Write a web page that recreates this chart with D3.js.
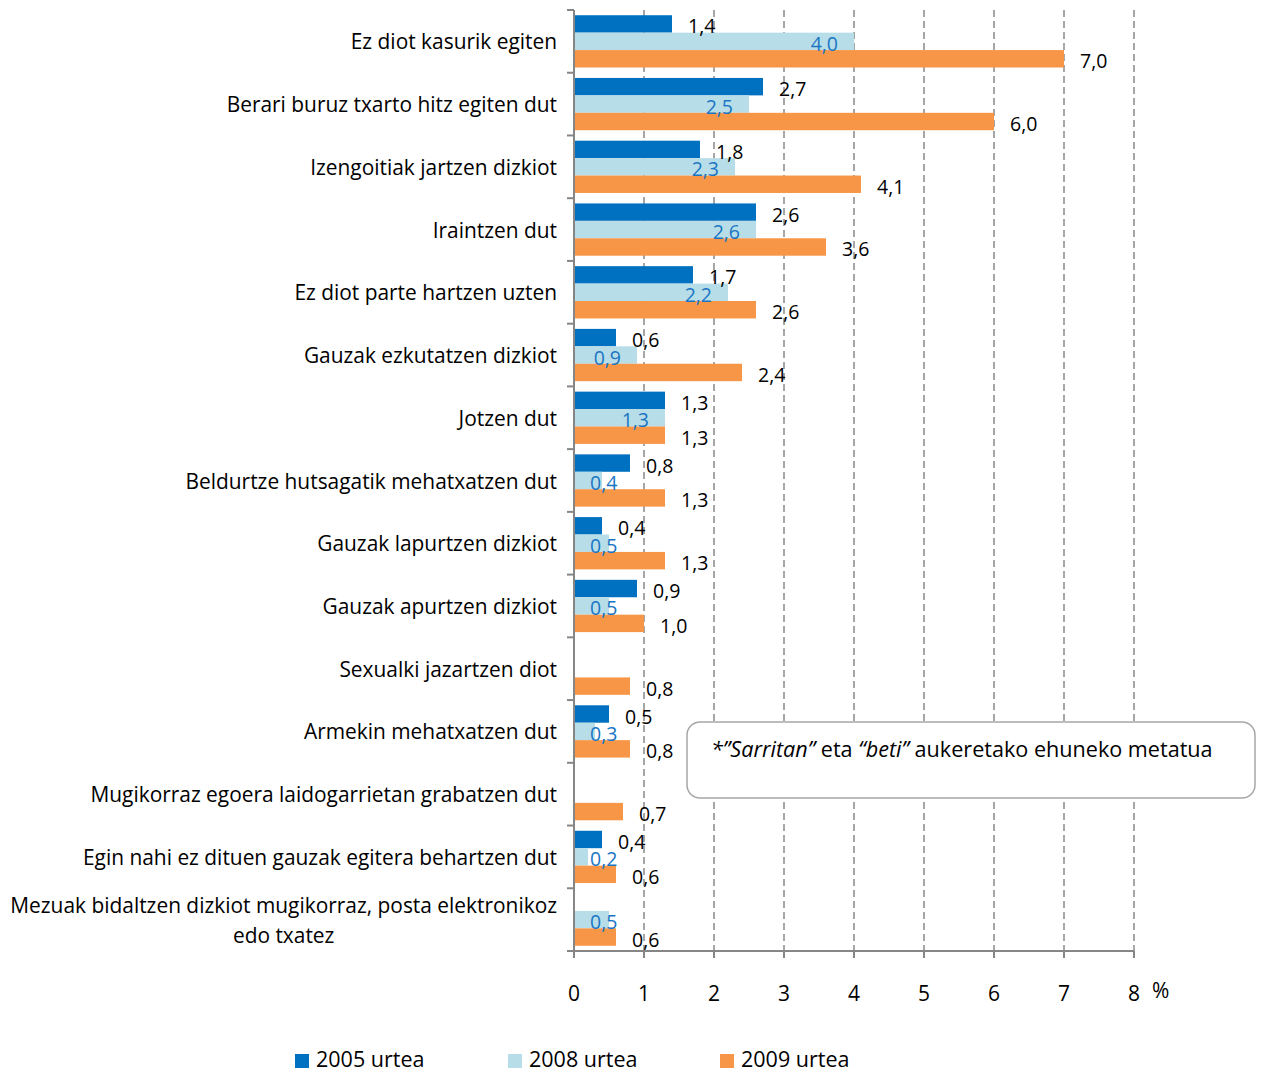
<!DOCTYPE html>
<html lang="eu">
<head>
    <meta charset="UTF-8">
    <title>Ehunekoak</title>
    <script src="https://cdn.jsdelivr.net/npm/d3@7"></script>
    <style>
        body, html { margin: 0; background: #ffffff; }
        svg { display: block; }
        text { font-family: 'Open Sans', 'Lato', sans-serif; fill: #000; }
        .cat { font-size: 20.9px; }
        .val { font-size: 19.5px; }
        .tick-lbl { font-size: 21px; }
        .legend { font-size: 21.5px; }
        .note { font-size: 21.6px; }
    </style>
</head>
<body>
<svg id="chart" width="1261" height="1073"></svg>
<script>
    const categories = [
        "Ez diot kasurik egiten",
        "Berari buruz txarto hitz egiten dut",
        "Izengoitiak jartzen dizkiot",
        "Iraintzen dut",
        "Ez diot parte hartzen uzten",
        "Gauzak ezkutatzen dizkiot",
        "Jotzen dut",
        "Beldurtze hutsagatik mehatxatzen dut",
        "Gauzak lapurtzen dizkiot",
        "Gauzak apurtzen dizkiot",
        "Sexualki jazartzen diot",
        "Armekin mehatxatzen dut",
        "Mugikorraz egoera laidogarrietan grabatzen dut",
        "Egin nahi ez dituen gauzak egitera behartzen dut",
        "Mezuak bidaltzen dizkiot mugikorraz, posta elektronikoz\nedo txatez"
    ];
    const seriesNames = ["2005 urtea", "2008 urtea", "2009 urtea"];
    const values2005 = [1.4, 2.7, 1.8, 2.6, 1.7, 0.6, 1.3, 0.8, 0.4, 0.9, null, 0.5, null, 0.4, null];
    const values2008 = [4.0, 2.5, 2.3, 2.6, 2.2, 0.9, 1.3, 0.4, 0.5, 0.5, null, 0.3, null, 0.2, 0.5];
    const values2009 = [7.0, 6.0, 4.1, 3.6, 2.6, 2.4, 1.3, 1.3, 1.3, 1.0, 0.8, 0.8, 0.7, 0.6, 0.6];
    const xTicks = [0, 1, 2, 3, 4, 5, 6, 7, 8];
    const noteText = [
        {t: "*\u201DSarritan\u201D", italic: true},
        {t: " eta ", italic: false},
        {t: "\u201Cbeti\u201D", italic: true},
        {t: " aukeretako ehuneko metatua", italic: false}
    ];

    const colors = ["#0070c0", "#b7dee8", "#f79646"];
    const labelColors = ["#000000", "#1a75c4", "#000000"];
    const seriesValues = [values2005, values2008, values2009];

    const svg = d3.select("#chart");
    const plotLeft = 574, plotRight = 1134, plotTop = 10, plotBottom = 951;

    const x = d3.scaleLinear().domain([0, 8]).range([plotLeft, plotRight]);
    const y = d3.scaleBand().domain(categories).range([plotTop, plotBottom]).paddingInner(0).paddingOuter(0);
    const ySub = d3.scaleBand().domain(seriesNames).range([0, y.bandwidth()]).paddingInner(0).paddingOuter(0.3);

    // dashed grid
    svg.append("g").selectAll("line")
        .data(xTicks.filter(d => d > 0))
        .enter().append("line")
        .attr("x1", d => x(d)).attr("x2", d => x(d))
        .attr("y1", plotTop).attr("y2", plotBottom)
        .attr("stroke", "#a6a6a6")
        .attr("stroke-width", 2)
        .attr("stroke-dasharray", "7,4");

    // bars
    seriesValues.forEach((vals, si) => {
        const g = svg.append("g");
        categories.forEach((c, ci) => {
            const v = vals[ci];
            if (v === null) return;
            g.append("rect")
                .attr("x", x(0))
                .attr("y", y(c) + ySub(seriesNames[si]))
                .attr("width", x(v) - x(0))
                .attr("height", ySub.bandwidth())
                .attr("fill", colors[si]);
        });
    });

    // value labels
    const fmt = v => d3.format(".1f")(v).replace(".", ",");
    seriesValues.forEach((vals, si) => {
        const g = svg.append("g");
        categories.forEach((c, ci) => {
            const v = vals[ci];
            if (v === null) return;
            const cy = y(c) + ySub(seriesNames[si]) + ySub.bandwidth() / 2 + 2;
            const t = g.append("text")
                .attr("class", "val")
                .attr("y", cy)
                .attr("dominant-baseline", "central")
                .style("fill", labelColors[si])
                .text(fmt(v));
            if (si === 1) {
                const w = t.node().getComputedTextLength();
                const start = Math.max(x(0) + 16, x(v) - 16 - w);
                t.attr("x", start);
            } else {
                t.attr("x", x(v) + 16);
            }
        });
    });

    // axes
    const axisColor = "#868686";
    svg.append("line")
        .attr("x1", plotLeft).attr("x2", plotLeft).attr("y1", plotTop).attr("y2", plotBottom + 7)
        .attr("stroke", axisColor).attr("stroke-width", 2);
    svg.append("line")
        .attr("x1", plotLeft - 7).attr("x2", plotRight).attr("y1", plotBottom).attr("y2", plotBottom)
        .attr("stroke", axisColor).attr("stroke-width", 2);

    const boundaries = categories.map(c => y(c)).concat([plotBottom]);
    svg.append("g").selectAll("line")
        .data(boundaries)
        .enter().append("line")
        .attr("x1", plotLeft - 7).attr("x2", plotLeft)
        .attr("y1", d => d).attr("y2", d => d)
        .attr("stroke", axisColor).attr("stroke-width", 2);

    svg.append("g").selectAll("line")
        .data(xTicks)
        .enter().append("line")
        .attr("x1", d => x(d)).attr("x2", d => x(d))
        .attr("y1", plotBottom).attr("y2", plotBottom + 7)
        .attr("stroke", axisColor).attr("stroke-width", 2);

    svg.append("g").selectAll("text")
        .data(xTicks)
        .enter().append("text")
        .attr("class", "tick-lbl")
        .attr("x", d => x(d))
        .attr("y", 1001)
        .attr("text-anchor", "middle")
        .text(d => d);

    svg.append("text")
        .attr("class", "tick-lbl")
        .attr("x", 1152).attr("y", 998)
        .text("%");

    // category labels
    categories.forEach(c => {
        const lines = c.split("\n");
        const cy = y(c) + y.bandwidth() / 2;
        const t = svg.append("text")
            .attr("class", "cat")
            .attr("y", cy);
        if (lines.length === 1) {
            t.attr("x", 557).attr("text-anchor", "end")
                .attr("dominant-baseline", "central")
                .text(c);
        } else {
            const spans = lines.map((ln, i) => t.append("tspan")
                .attr("y", cy + (i - (lines.length - 1) / 2) * 30)
                .attr("dominant-baseline", "central")
                .text(ln));
            const maxW = d3.max(spans, s => s.node().getComputedTextLength());
            t.attr("text-anchor", "middle");
            spans.forEach(s => s.attr("x", 557 - maxW / 2));
        }
    });

    // note box
    svg.append("rect")
        .attr("x", 687).attr("y", 722)
        .attr("width", 568).attr("height", 76)
        .attr("rx", 13).attr("ry", 13)
        .attr("fill", "#ffffff")
        .attr("stroke", "#a6a6a6")
        .attr("stroke-width", 1.5);

    const note = svg.append("text")
        .attr("class", "note")
        .attr("x", 711).attr("y", 757);
    noteText.forEach(p => {
        note.append("tspan")
            .style("font-style", p.italic ? "italic" : "normal")
            .text(p.t);
    });

    // legend
    const legendX = [295, 508, 720];
    seriesNames.forEach((s, i) => {
        svg.append("rect")
            .attr("x", legendX[i]).attr("y", 1054)
            .attr("width", 14).attr("height", 14)
            .attr("fill", colors[i]);
        svg.append("text")
            .attr("class", "legend")
            .attr("x", legendX[i] + 21).attr("y", 1067)
            .text(s);
    });
</script>
</body>
</html>
